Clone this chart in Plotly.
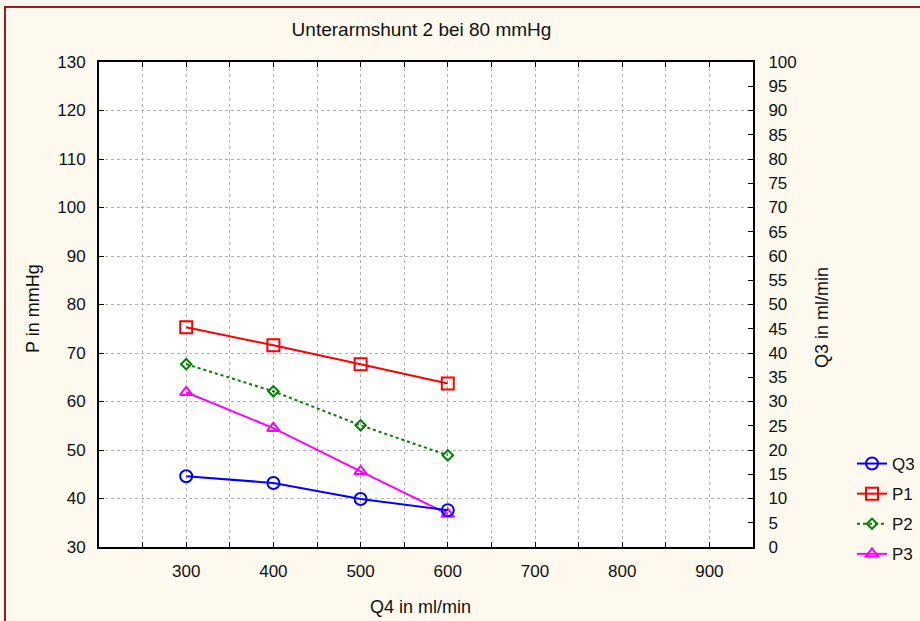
import plotly.graph_objects as go

title = "Unterarmshunt 2 bei 80 mmHg"
x_title = "Q4 in ml/min"
y_title = "P in mmHg"
y2_title = "Q3 in ml/min"
q4 = [300, 400, 500, 600]
q3 = [14.6, 13.2, 9.9, 7.6]
p1 = [75.3, 71.6, 67.7, 63.7]
p2 = [67.7, 62.1, 55.1, 48.9]
p3 = [61.9, 54.5, 45.6, 36.8]

x_tickvals = [250, 300, 350, 400, 450, 500, 550, 600, 650, 700, 750, 800, 850, 900]
x_ticktext = ["", "300", "", "400", "", "500", "", "600", "", "700", "", "800", "", "900"]

font = dict(family="Liberation Sans, Arial, sans-serif", size=17, color="#111111")

L, R, T, B = 99, 167, 62, 74
PW, PH = 920 - L - R, 621 - T - B


def px(x):
    return (x - L) / PW


def py(y):
    return (621 - B - y) / PH


fig = go.Figure()
fig.add_trace(go.Scatter(x=q4, y=q3, name="Q3", yaxis="y2", mode="lines+markers", legendgroup="a",
                         line=dict(color="#0000ff", width=2),
                         marker=dict(symbol="circle-open", size=12, color="#0000ff", line=dict(width=2))))
fig.add_trace(go.Scatter(x=q4, y=p1, name="P1", mode="lines+markers", legendgroup="b",
                         line=dict(color="#ff0000", width=2),
                         marker=dict(symbol="square-open", size=12, color="#ff0000", line=dict(width=2))))
fig.add_trace(go.Scatter(x=q4, y=p2, name="P2", mode="lines+markers", legendgroup="c",
                         line=dict(color="#008000", width=2, dash="dot"),
                         marker=dict(symbol="diamond-open", size=8, color="#008000", line=dict(width=2))))
fig.add_trace(go.Scatter(x=q4, y=p3, name="P3", mode="lines+markers", legendgroup="d",
                         line=dict(color="#ff00ff", width=2),
                         marker=dict(symbol="triangle-up-open", size=11, color="#ff00ff", line=dict(width=2))))

grid = dict(showgrid=True, gridcolor="#b0b0b0", griddash="3px,3px", gridwidth=1)

fig.update_layout(
    width=920, height=621,
    margin=dict(l=L, r=R, t=T, b=B, autoexpand=False),
    paper_bgcolor="#fdf9ef",
    plot_bgcolor="#ffffff",
    font=font,
    showlegend=True,
    title=dict(text=title, x=421.5 / 920, xanchor="center", y=1 - 29 / 621, yanchor="middle",
               font=dict(size=19)),
    xaxis=dict(range=[200, 950], tickvals=x_tickvals, ticktext=x_ticktext, automargin=False,
               ticks="inside", ticklen=5, tickcolor="#000", showline=True, linecolor="#000", linewidth=2,
               mirror="ticks", zeroline=False, ticklabelstandoff=8, **grid),
    yaxis=dict(range=[30, 130], dtick=10, ticks="inside", ticklen=5, tickcolor="#000", automargin=False,
               showline=True, linecolor="#000", linewidth=2, mirror=True, zeroline=False,
               ticklabelstandoff=8, **grid),
    yaxis2=dict(range=[0, 100], dtick=5, overlaying="y", side="right", ticks="inside", ticklen=5,
                tickcolor="#000", showline=True, linecolor="#000", linewidth=2, showgrid=False,
                zeroline=False, ticklabelstandoff=10, automargin=False),
    legend=dict(x=px(852), y=py(446), xanchor="left", yanchor="top",
                bgcolor="rgba(0,0,0,0)", tracegroupgap=5, itemsizing="trace",
                font=dict(size=17)),
    annotations=[
        dict(text=x_title, xref="paper", yref="paper", x=px(420), y=py(607), xanchor="center",
             yanchor="middle", showarrow=False, font=dict(size=18)),
        dict(text=y_title, xref="paper", yref="paper", x=px(33), y=py(309), xanchor="center",
             yanchor="middle", showarrow=False, textangle=-90, font=dict(size=18)),
        dict(text=y2_title, xref="paper", yref="paper", x=px(822), y=py(318), xanchor="center",
             yanchor="middle", showarrow=False, textangle=-90, font=dict(size=18)),
    ],
    shapes=[dict(type="rect", xref="paper", yref="paper",
                 x0=px(5), x1=1.6, y0=-0.5, y1=py(7),
                 line=dict(color="#9b1c1c", width=2), fillcolor="rgba(0,0,0,0)", layer="below")],
)

fig.write_html("out.html", config={"displayModeBar": False},
               post_script="document.body.style.margin='0';document.body.style.overflow='hidden';")
